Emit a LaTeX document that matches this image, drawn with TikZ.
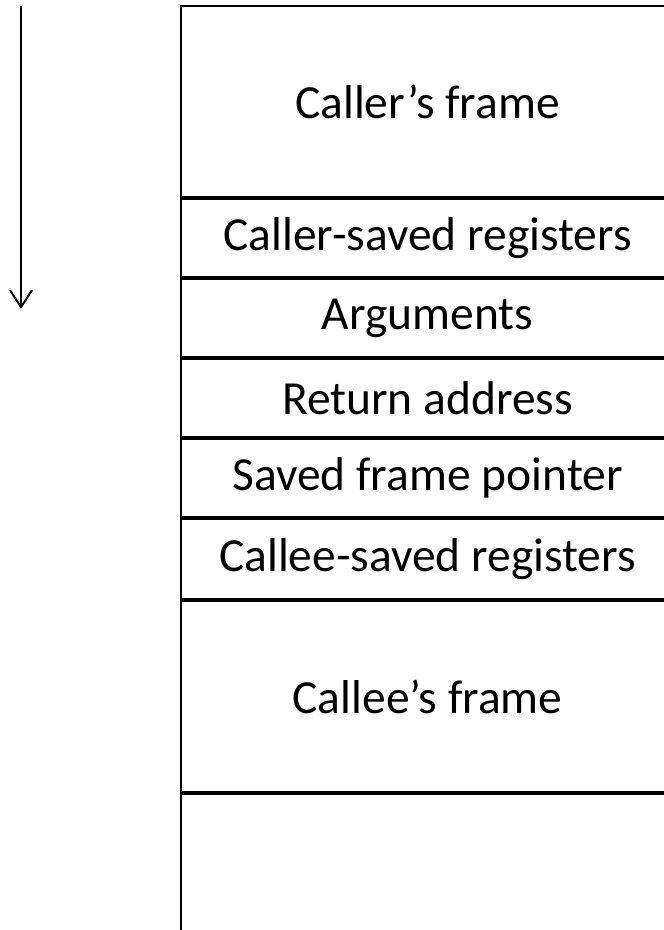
\documentclass[tikz,border=0pt]{standalone}
\usepackage{fontspec}
\setmainfont{Carlito}
\usetikzlibrary{arrows.meta, positioning}

\begin{document}
\begin{tikzpicture}[x=1pt, y=1pt, node distance=2pt]

    \tikzset{
        slot/.style={draw, line width=2pt, rectangle, minimum width=493pt, minimum height=78pt, inner sep=0pt, outer sep=0pt, anchor=north, font=\fontsize{47.5}{56}\selectfont},
        bigSlot/.style={slot, minimum height=191pt}
    }

    \useasboundingbox (0,0) rectangle (664,-930);

    % Stack slots, top to bottom
    \node[bigSlot, anchor=north west] (caller) at (181,-6) {Caller’s frame};
    \node[slot] (callersaved) [below=of caller] {Caller-saved registers};
    \node[slot] (args) [below=of callersaved] {Arguments};
    \node[slot] (retaddr) [below=of args] {Return address};
    \node[slot] (savedfp) [below=of retaddr] {Saved frame pointer};
    \node[slot, minimum height=80pt] (calleesaved) [below=of savedfp] {Callee-saved registers};
    \node[bigSlot] (callee) [below=of calleesaved] {Callee’s frame};
    \node[bigSlot, minimum height=170pt] (free) [below=of callee] {};

    % Growth direction
    \coordinate (growtop) at (21,-6);
    \coordinate (growbot) at (21,-309);
    \draw[line width=2pt, -{Straight Barb[length=17pt, width=22pt, line width=2pt]}] (growtop) -- (growbot);

\end{tikzpicture}
\end{document}
